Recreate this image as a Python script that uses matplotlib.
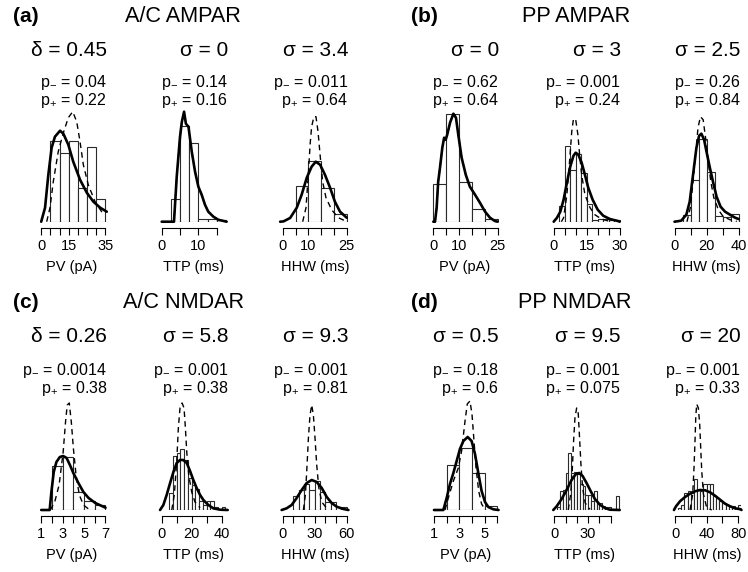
#!/usr/bin/env python
"""Histograms of PV / TTP / HHW with fitted (solid) and deconvolved (dashed) densities
for A/C and PP AMPAR / NMDAR responses. Writes out.png (748x572)."""
import matplotlib

matplotlib.use("Agg")
import matplotlib.pyplot as plt

plt.rcParams["font.family"] = ["Liberation Sans", "DejaVu Sans"]
plt.rcParams["mathtext.fontset"] = "custom"
plt.rcParams["mathtext.rm"] = "Liberation Sans"
plt.rcParams["mathtext.it"] = "Liberation Sans"

W, H = 748, 572
EDGE = "#2a2a2a"

# ---- data: bin edges, bar heights (density, a.u.), fitted and dashed curves ----
# (a) A/C AMPAR
a_pv_edges = [5, 10, 15, 20, 25, 30, 35]
a_pv_hist = [81, 69, 81, 34, 75, 23]
a_pv_fit_x = [0, 2.1, 3.9, 5.7, 7.5, 10.3, 12.1, 14.8, 17.5, 21.2, 24.9, 28.5, 32.2, 35.8]
a_pv_fit_y = [0, 14, 47, 74, 85, 91, 88, 77, 60, 42, 29, 20, 14, 10]
a_pv_dash_x = [3.0, 4.8, 6.6, 9.3, 12.1, 14.8, 17.2, 19.4, 21.2, 23, 25.7, 29.4, 33, 34.8]
a_pv_dash_y = [0, 14, 40, 70, 89, 104, 110, 100, 80, 57, 37, 20, 10, 7]

a_ttp_edges = [2.5, 5, 7.5, 10, 12.5, 15, 17.5]
a_ttp_hist = [23, 96, 79, 3, 3, 2]
a_ttp_fit_x = [0, 3.35, 4.1, 5.0, 5.5, 6.1, 6.6, 7.3, 8.2, 9.1, 10, 10.9, 11.8, 12.7, 14.1, 15.4, 17.7]
a_ttp_fit_y = [0, 0, 45, 85, 100, 110, 98, 95, 70, 50, 35, 27, 17, 10, 5, 2, 0]
a_ttp_dash_x = a_ttp_fit_x
a_ttp_dash_y = a_ttp_fit_y

a_hhw_edges = [5, 10, 15, 20, 25]
a_hhw_hist = [36, 61, 34, 8]
a_hhw_fit_x = [-1, 0.3, 2.9, 5.5, 7.4, 9.4, 11.3, 12.9, 14.6, 16.5, 18.5, 20.4, 22.4, 25]
a_hhw_fit_y = [0, 0.3, 3.7, 14, 27, 44, 55, 60, 57, 47, 34, 20, 10, 4]
a_hhw_dash_x = [7.8, 9.1, 10.0, 10.7, 11.3, 12.2, 13.0, 13.8, 14.6, 15.6, 16.9, 19.1, 21.7, 24.3]
a_hhw_dash_y = [0, 14, 47, 77, 95, 105, 105, 90, 67, 40, 24, 12, 4, 1]

# (b) PP AMPAR
b_pv_edges = [0, 5, 10, 15, 20, 25]
b_pv_hist = [38, 108, 40, 12.7, 3]
b_pv_fit_x = [0, 0.66, 1.3, 1.9, 2.6, 3.5, 4.2, 4.8, 5.4, 6.5, 7.8, 8.8, 9.7, 11.0, 12.6,
              14.2, 16.2, 18.1, 20.1, 22.0, 23.9, 25]
b_pv_fit_y = [0, 0, 14, 40, 54, 74, 84, 82, 87, 99, 108, 104, 87, 64, 47, 35, 27, 19, 10, 4, 0.7, 0]
b_pv_dash_x = b_pv_fit_x
b_pv_dash_y = b_pv_fit_y

b_ttp_edges = [2.5, 5, 7.5, 10, 12.5, 15, 17.5, 20, 22.5, 25, 27.5, 30]
b_ttp_hist = [16, 76, 52, 68, 49, 18, 2, 3, 3, 2, 2]
b_ttp_fit_x = [0, 1.5, 3, 4.5, 6, 7.5, 9, 10, 11.2, 12.7, 14.2, 15.7, 17.7, 20, 22.5, 25.5, 29.2, 30]
b_ttp_fit_y = [0, 4, 10, 22, 39, 55, 66, 69, 67, 59, 47, 34, 22, 12, 6, 2.7, 0.7, 0]
b_ttp_dash_x = [3.5, 4.5, 6, 7.2, 8.2, 9, 10, 11, 11.7, 12.7, 14.2, 16.5, 18.7, 21.7, 25.5]
b_ttp_dash_y = [0, 4, 27, 60, 90, 103, 102, 87, 69, 47, 27, 14, 7, 2.7, 0.3]

b_hhw_edges = [5, 10, 15, 20, 25, 30, 35, 40]
b_hhw_hist = [7, 42, 83, 50, 6, 5, 8]
b_hhw_fit_x = [0, 4.2, 7.4, 9.5, 11.6, 13.7, 15.4, 16.8, 18.5, 20, 22.1, 24.2, 26.3, 28.8,
               31.6, 34.7, 37.9, 40]
b_hhw_fit_y = [0, 1, 7, 20, 47, 74, 86, 88, 82, 70, 54, 39, 25, 15, 10, 7, 4, 2.7]
b_hhw_dash_x = [7.8, 9.9, 11.6, 13.3, 14.7, 16.2, 17.9, 19.4, 21.1, 22.7, 24.6, 27.4, 30.5, 34.7, 38.9]
b_hhw_dash_y = [0, 14, 40, 70, 94, 105, 102, 84, 60, 40, 24, 12, 5, 2, 0.3]

# (c) A/C NMDAR
c_pv_edges = [2, 3, 4, 5, 6, 7]
c_pv_hist = [44, 53, 18, 9, 5]
c_pv_fit_x = [1, 1.79, 1.95, 2.17, 2.42, 2.74, 3.05, 3.37, 3.68, 4.0, 4.47, 4.94, 5.42, 6.05, 7.0]
c_pv_fit_y = [0, 0, 18, 38, 48, 53, 54, 52, 45, 37, 27, 18, 12, 7, 2.3]
c_pv_dash_x = [1.85, 2.26, 2.67, 3.05, 3.27, 3.43, 3.62, 3.81, 4.0, 4.25, 4.56, 4.94, 5.42]
c_pv_dash_y = [0, 8, 25, 58, 88, 105, 107, 88, 62, 35, 15, 5, 1]

c_ttp_edges = [5, 7.5, 10, 12.5, 15, 17.5, 20, 22.5, 25, 27.5, 30, 32.5, 35, 37.5, 40, 42.5]
c_ttp_hist = [17, 54, 57, 61, 50, 32, 25, 21, 9, 5, 9, 9, 3.3, 0, 2.7]
c_ttp_fit_x = [-1.1, 1.1, 3.3, 5.6, 7.8, 10, 12.2, 14.4, 16.7, 18.9, 21.1, 23.3, 25.6, 27.8,
               31.1, 34.4, 38.9, 44]
c_ttp_fit_y = [0, 5, 15, 27, 38, 47, 50, 50, 47, 39, 30, 22, 15, 10, 5, 1.7, 0.3, 0]
c_ttp_dash_x = [6.7, 8.4, 10, 11.1, 12.2, 13.6, 14.9, 15.8, 16.7, 18, 20, 22.2, 25.6]
c_ttp_dash_y = [0, 15, 48, 82, 102, 107, 102, 82, 58, 35, 18, 8, 2.3]

c_hhw_edges = [10, 15, 20, 25, 30, 35, 40, 45, 50, 55, 60]
c_hhw_hist = [14, 20, 26, 20, 29, 18, 8, 8, 3, 2.7]
c_hhw_fit_x = [-1, 3.75, 8.4, 13.1, 17.8, 22.5, 27.2, 31.9, 36.6, 41.3, 45.9, 50.6, 56.9, 61.6]
c_hhw_fit_y = [0, 1.7, 5, 12, 20, 27, 30, 28, 22, 13, 7, 3.3, 1, 0]
c_hhw_dash_x = [19.4, 21.25, 22.5, 24.1, 25.6, 27.2, 28.75, 30.3, 31.9, 33.75, 36.6, 41.3]
c_hhw_dash_y = [0, 15, 38, 72, 95, 105, 95, 72, 45, 23, 8, 1.7]

# (d) PP NMDAR
d_pv_edges = [2, 3, 4, 5, 6]
d_pv_hist = [45, 62, 37, 4]
d_pv_fit_x = [1, 1.74, 2.0, 2.26, 2.53, 2.79, 3.05, 3.32, 3.66, 3.97, 4.24, 4.5, 4.76, 5.03,
              5.29, 5.68, 6.1]
d_pv_fit_y = [0, 0, 12, 26, 37, 49, 61, 69, 73, 69, 56, 37, 19, 8, 3, 0.7, 0]
d_pv_dash_x = [1.87, 2.13, 2.53, 2.92, 3.18, 3.45, 3.63, 3.84, 4.0, 4.16, 4.32, 4.53, 4.76, 5.03]
d_pv_dash_y = [0, 12, 29, 42, 59, 89, 106, 109, 96, 69, 42, 19, 6, 0.7]

d_ttp_edges = [2.5, 5, 7.5, 10, 12.5, 15, 17.5, 20, 22.5, 25, 27.5, 30, 32.5, 35, 37.5, 40,
               42.5, 45, 47.5, 50, 52.5, 55, 57.5]
d_ttp_hist = [3, 19, 20, 37, 57, 37, 38, 36, 26, 24, 15, 15, 9, 19, 7, 7, 4, 3, 3, 0, 0, 14]
d_ttp_fit_x = [-0.9, 2.1, 6.5, 10.9, 15.3, 19.2, 22.1, 25.1, 28.6, 32.2, 36, 40.4, 44.8, 49.3, 58]
d_ttp_fit_y = [0, 3.7, 11, 20, 30, 36, 37, 34, 27, 19, 11, 5.3, 2, 0.3, 0]
d_ttp_dash_x = [12.4, 14.5, 15.9, 17.1, 18.3, 19.8, 21.2, 22.4, 23.6, 25.1, 27.4, 31.6]
d_ttp_dash_y = [0, 16, 39, 69, 92, 102, 97, 72, 46, 22, 7, 0.7]

d_hhw_edges = [4, 8, 12, 16, 20, 24, 28, 32, 36, 40, 44, 48, 52, 56, 60, 64, 68, 72, 76, 80, 84]
d_hhw_hist = [2, 5, 17, 19, 17, 31, 20, 19, 26, 26, 26, 14, 12, 9, 7, 5, 4, 4, 2, 5]
d_hhw_fit_x = [-1.3, 1.3, 6.3, 12.7, 19, 25.3, 31.6, 38, 44.3, 50.6, 57, 63.3, 69.6, 75.9, 83.1, 84]
d_hhw_fit_y = [0, 3.7, 8.7, 13, 16.3, 18.7, 20, 19.7, 17.7, 14.3, 10.3, 6.3, 3.7, 1.7, 0.7, 0]
d_hhw_dash_x = [19, 22.4, 24, 25.3, 26.2, 27.4, 29.5, 31.2, 32.5, 33.8, 35.9, 40.1, 46.4]
d_hhw_dash_y = [0, 16, 42, 69, 92, 106, 102, 86, 62, 39, 16, 2.3, 0]

# axis ticks and which of them R kept a label for
pv_ticks = {"a": [0, 5, 10, 15, 20, 25, 30, 35], "b": [0, 5, 10, 15, 20, 25],
            "c": [1, 2, 3, 4, 5, 6, 7], "d": [1, 2, 3, 4, 5, 6]}
pv_shown = {"a": [0, 15, 35], "b": [0, 10, 25], "c": [1, 3, 5, 7], "d": [1, 3, 5]}
ttp_ticks = {"a": [0, 5, 10, 15], "b": [0, 5, 10, 15, 20, 25, 30],
             "c": [0, 10, 20, 30, 40], "d": [0, 10, 20, 30, 40, 50]}
ttp_shown = {"a": [0, 10], "b": [0, 15, 30], "c": [0, 20, 40], "d": [0, 30]}
hhw_ticks = {"a": [0, 5, 10, 15, 20, 25], "b": [0, 10, 20, 30, 40],
             "c": [0, 10, 20, 30, 40, 50, 60], "d": [0, 20, 40, 60, 80]}
hhw_shown = {"a": [0, 10, 25], "b": [0, 20, 40], "c": [0, 30, 60], "d": [0, 40, 80]}

titles = {"a": "A/C AMPAR", "b": "PP AMPAR", "c": "A/C NMDAR", "d": "PP NMDAR"}
widths = {"a": ["δ = 0.45", "σ = 0", "σ = 3.4"], "b": ["σ = 0", "σ = 3", "σ = 2.5"],
          "c": ["δ = 0.26", "σ = 5.8", "σ = 9.3"], "d": ["σ = 0.5", "σ = 9.5", "σ = 20"]}
p_minus = {"a": ["0.04", "0.14", "0.011"], "b": ["0.62", "0.001", "0.26"],
           "c": ["0.0014", "0.001", "0.001"], "d": ["0.18", "0.001", "0.001"]}
p_plus = {"a": ["0.22", "0.16", "0.64"], "b": ["0.64", "0.24", "0.84"],
          "c": ["0.38", "0.38", "0.81"], "d": ["0.6", "0.075", "0.33"]}
xlabels = ["PV (pA)", "TTP (ms)", "HHW (ms)"]

# ---- layout (pixels of the 748x572 canvas) ----
ROWS = {"top": dict(title=16.7, sigma=50, pvals=91.3, base=221.7),
        "bottom": dict(title=302.7, sigma=336.5, pvals=379.5, base=510)}
PANEL_POS = {"a": ("top", 13, 183), "b": ("top", 411, 576.5),
             "c": ("bottom", 13, 184), "d": ("bottom", 411, 575)}
# per sub-plot: plot-region left/right, pixel x of first/last tick
SUB_POS = {
    "a": [(35.4, 107, 41.2, 105.3), (158.6, 228, 161.7, 216.7), (281.7, 348.3, 282.7, 346.7)],
    "b": [(430.6, 499, 433.3, 497.7), (547.3, 620.7, 553.7, 619.7), (671.3, 740.7, 674.5, 738.5)],
    "c": [(36.7, 107.3, 41.2, 105.5), (159.1, 228.3, 161.7, 221.7), (281.7, 348.3, 282.7, 346.7)],
    "d": [(431.6, 499, 434, 497.3), (547.3, 620.7, 554.3, 610.7), (673.9, 740.7, 675, 738.3)],
}
AX_H = 125  # px above the histogram baseline


def fx(px):
    return px / W


def fy(py):
    return 1 - py / H


def draw_sub(fig, pos, base, series, ticks, shown):
    left, right, t0_px, t1_px = pos
    t0, t1 = ticks[0], ticks[-1]
    scale = (t1_px - t0_px) / (t1 - t0)
    lo = t0 + (left - t0_px) / scale
    hi = t0 + (right - t0_px) / scale
    ax = fig.add_axes([fx(left), fy(base), (right - left) / W, AX_H / H])
    edges, hist, fit_x, fit_y, dash_x, dash_y = series
    bw = [b - a for a, b in zip(edges[:-1], edges[1:])]
    ax.bar(edges[:-1], hist, width=bw, align="edge", facecolor="white",
           edgecolor=EDGE, linewidth=0.8, zorder=1)
    ax.plot(dash_x, dash_y, color="black", lw=1.0, ls=(0, (4, 3)), zorder=2, clip_on=False)
    ax.plot(fit_x, fit_y, color="black", lw=1.9, zorder=3, clip_on=False,
            solid_joinstyle="round", solid_capstyle="round")
    ax.set_xlim(lo, hi)
    ax.set_ylim(0, AX_H)
    for s in ("top", "right", "left"):
        ax.spines[s].set_visible(False)
    ax.spines["bottom"].set_position(("outward", 4.3))
    ax.spines["bottom"].set_bounds(t0, t1)
    ax.spines["bottom"].set_linewidth(0.8)
    ax.set_yticks([])
    ax.set_xticks(ticks, [f"{t}" if t in shown else "" for t in ticks])
    ax.tick_params(axis="x", direction="out", length=5, width=0.8, pad=3, labelsize=10.5)
    ax.patch.set_alpha(0)
    return ax


fig = plt.figure(figsize=(W / 100, H / 100), dpi=100)

for key in "abcd":
    row, lab_x, title_x = PANEL_POS[key]
    r = ROWS[row]
    fig.text(fx(lab_x), fy(r["title"]), f"({key})", fontsize=15, fontweight="bold",
             ha="left", va="center")
    fig.text(fx(title_x), fy(r["title"]), titles[key], fontsize=15.6, ha="center", va="center")
    series = [
        (globals()[f"{key}_{v}_edges"], globals()[f"{key}_{v}_hist"],
         globals()[f"{key}_{v}_fit_x"], globals()[f"{key}_{v}_fit_y"],
         globals()[f"{key}_{v}_dash_x"], globals()[f"{key}_{v}_dash_y"])
        for v in ("pv", "ttp", "hhw")
    ]
    ticks = [pv_ticks[key], ttp_ticks[key], hhw_ticks[key]]
    shown = [pv_shown[key], ttp_shown[key], hhw_shown[key]]
    for i in range(3):
        pos = SUB_POS[key][i]
        draw_sub(fig, pos, r["base"], series[i], ticks[i], shown[i])
        left, right = pos[0], pos[1]
        fig.text(fx(right), fy(r["sigma"]), widths[key][i], fontsize=15, ha="right", va="center")
        ptxt = "p$_{-}$ = " + p_minus[key][i] + "\np$_{+}$ = " + p_plus[key][i]
        fig.text(fx(right), fy(r["pvals"]), ptxt, fontsize=11.5, ha="right", va="center",
                 multialignment="right", linespacing=0.95)
        fig.text(fx((left + right) / 2), fy(r["base"] + 45), xlabels[i], fontsize=10.5,
                 ha="center", va="center")

fig.savefig("out.png", dpi=100)
